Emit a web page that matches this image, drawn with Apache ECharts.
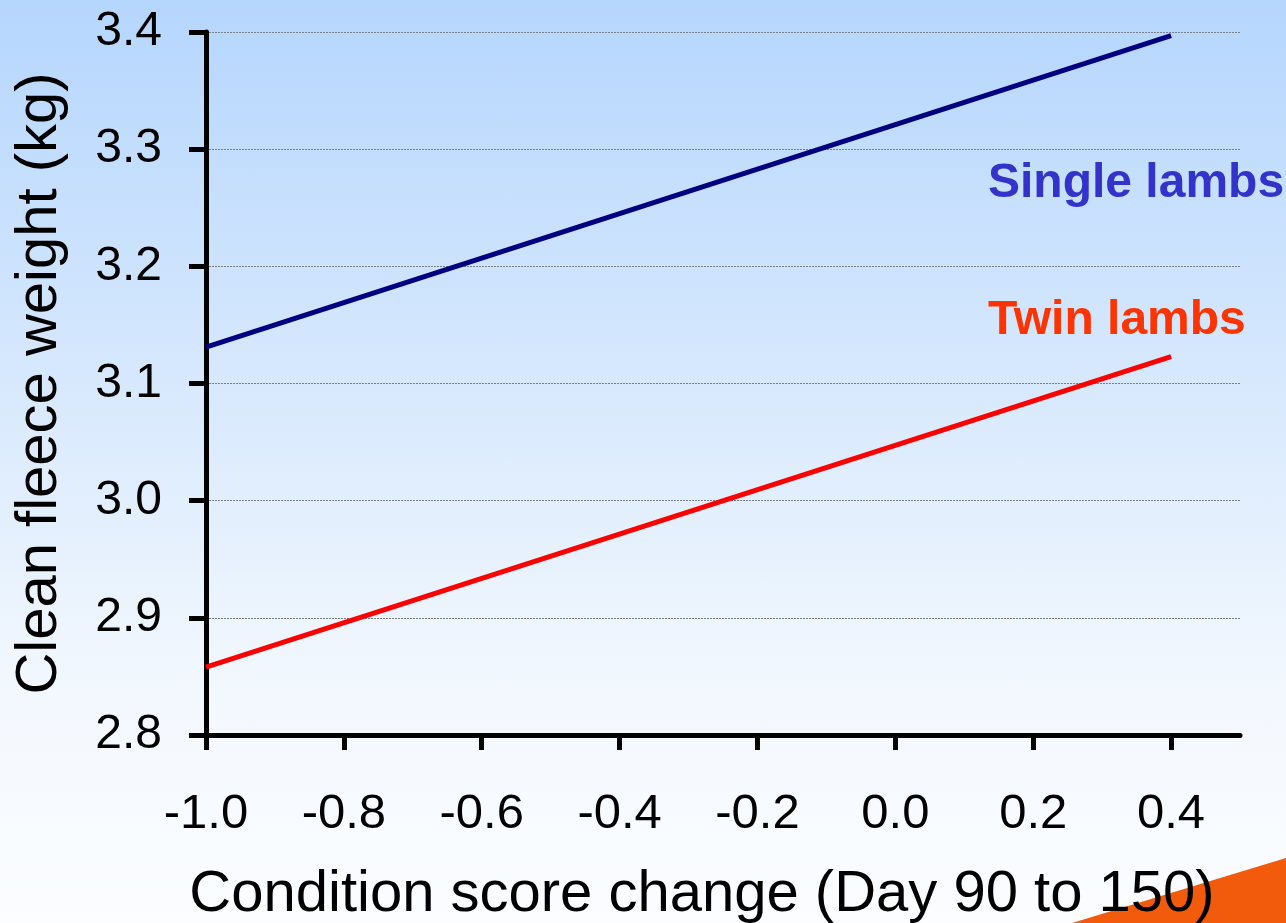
<!DOCTYPE html>
<html>
<head>
<meta charset="utf-8">
<script src="https://cdn.jsdelivr.net/npm/echarts@6/dist/echarts.min.js"></script>
<style>
  html, body { margin: 0; padding: 0; }
  #chart { width: 1286px; height: 923px;
    background: linear-gradient(to bottom, #b5d6fd 0%, #d6e8fd 40%, #f3f8fe 75%, #fbfdff 100%); }
</style>
</head>
<body>
<div id="chart"></div>
<script>
// Regression lines of clean fleece weight against condition score change
const xTicks = [-1.0, -0.8, -0.6, -0.4, -0.2, 0.0, 0.2, 0.4];
const singleLambs = [[-1.0, 3.131], [0.4, 3.397]];
const twinLambs = [[-1.0, 2.858], [0.4, 3.123]];
const seriesNames = ['Single lambs', 'Twin lambs'];
const xTitle = 'Condition score change (Day 90 to 150)';
const yTitle = 'Clean fleece weight (kg)';

const chart = echarts.init(document.getElementById('chart'), null, { renderer: 'canvas' });
const font = 'Liberation Sans, Arial, sans-serif';

chart.setOption({
  backgroundColor: 'transparent',
  animation: false,
  grid: { left: 206, right: 46, top: 32, bottom: 188, outerBoundsMode: 'none' },
  xAxis: {
    type: 'value', min: -1.0, max: 0.5,
    axisLine: { show: true, onZero: false, lineStyle: { color: '#000', width: 5 } },
    axisTick: { show: true, inside: false, length: 15, customValues: xTicks, lineStyle: { color: '#000', width: 5 } },
    axisLabel: { customValues: xTicks, formatter: v => v.toFixed(1), color: '#000', fontFamily: font, fontSize: 49, margin: 55 },
    splitLine: { show: false },
    name: xTitle, nameLocation: 'middle', nameGap: 131,
    nameTextStyle: { color: '#000', fontFamily: font, fontSize: 58, padding: [0, 42, 0, 0] }
  },
  yAxis: {
    type: 'value', min: 2.8, max: 3.4, interval: 0.1,
    axisLine: { show: true, onZero: false, lineStyle: { color: '#000', width: 5 } },
    axisTick: { show: true, length: 17, lineStyle: { color: '#000', width: 5 } },
    axisLabel: { formatter: v => v.toFixed(1), color: '#000', fontFamily: font, fontSize: 48, margin: 44 },
    splitLine: { show: true, lineStyle: { color: '#7a7f88', width: 1, type: [2, 1] } },
    name: yTitle, nameLocation: 'middle', nameGap: 137,
    nameTextStyle: { color: '#000', fontFamily: font, fontSize: 58 }
  },
  series: [
    { name: seriesNames[0], type: 'line', data: singleLambs, symbol: 'none', z: 3,
      lineStyle: { color: '#000080', width: 5 } },
    { name: seriesNames[1], type: 'line', data: twinLambs, symbol: 'none', z: 3,
      lineStyle: { color: '#ff0000', width: 5 } }
  ],
  graphic: [
    { type: 'text', x: 988, y: 184, z: 10,
      style: { text: seriesNames[0], fill: '#3333cc', font: 'bold 48px ' + font, verticalAlign: 'middle' } },
    { type: 'text', x: 988, y: 321, z: 10,
      style: { text: seriesNames[1], fill: '#ff3300', font: 'bold 48px ' + font, verticalAlign: 'middle' } },
    { type: 'polygon', z: -1, silent: true,
      shape: { points: [[1072, 923], [1286, 858], [1286, 923]] },
      style: { fill: '#f25a0c' } }
  ]
});
</script>
</body>
</html>
